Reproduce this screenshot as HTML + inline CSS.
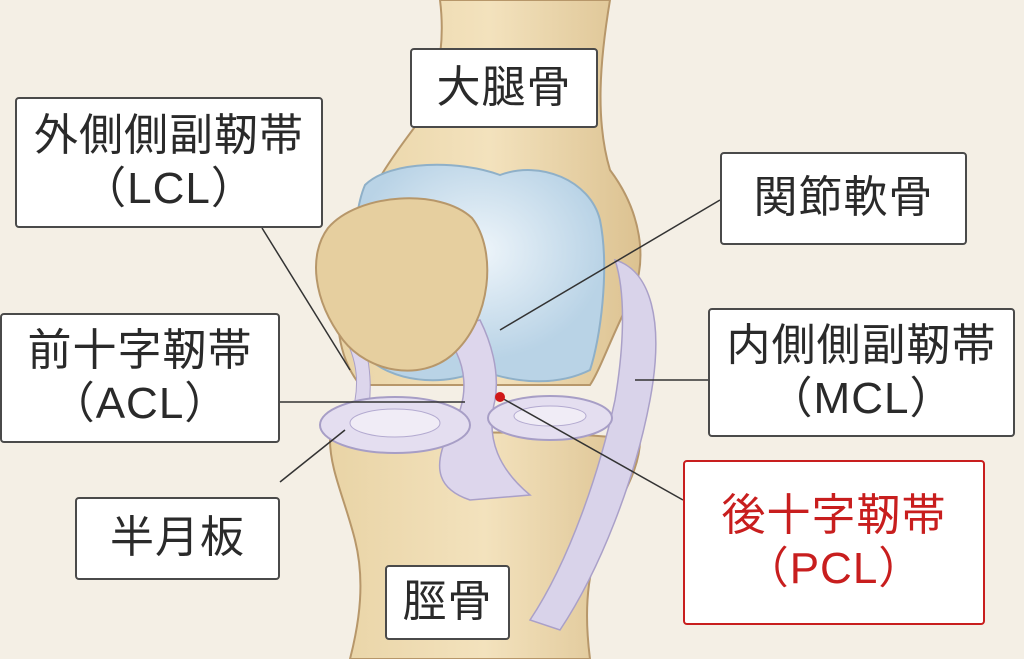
<!DOCTYPE html>
<html><head><meta charset="utf-8"><style>
body{margin:0;width:1024px;height:659px;overflow:hidden;background:#f4efe5;font-family:"Liberation Sans","Noto Sans CJK JP",sans-serif}
.b{position:absolute;background:#fff;border:2px solid #4a4a4a;border-radius:4px;box-sizing:border-box;display:flex;flex-direction:column;align-items:center;justify-content:center;font-size:44px;color:#2a2a2a;line-height:1.2;letter-spacing:1px}
</style></head><body>
<svg width="1024" height="659" style="position:absolute;left:0;top:0">
<defs>
<linearGradient id="bone" x1="0" x2="1"><stop offset="0" stop-color="#e9d4a6"/><stop offset=".5" stop-color="#f3e2bd"/><stop offset="1" stop-color="#dcc291"/></linearGradient>
<radialGradient id="cart" cx=".5" cy=".4"><stop offset="0" stop-color="#eef5fa"/><stop offset="1" stop-color="#b9d3e6"/></radialGradient>
</defs>
<path d="M440 0 L610 0 C600 60 595 120 610 170 C640 210 650 260 630 300 C610 340 600 370 590 385 L360 385 C340 360 330 320 345 260 C360 200 390 160 420 120 C440 80 445 40 440 0Z" fill="url(#bone)" stroke="#b7976a" stroke-width="2"/>
<path d="M365 185 C390 160 460 160 500 175 C540 160 590 180 600 220 C610 270 600 340 590 370 C560 385 520 385 480 370 C450 385 400 385 370 360 C350 300 350 220 365 185Z" fill="url(#cart)" stroke="#8fb0c8" stroke-width="2"/>
<path d="M330 440 C330 470 345 500 355 540 C365 580 360 620 350 659 L590 659 C585 620 585 580 600 540 C620 500 640 470 640 440 C560 430 420 430 330 440Z" fill="url(#bone)" stroke="#b7976a" stroke-width="2"/>
<path d="M615 260 C650 270 665 320 650 400 C635 480 600 570 560 630 L530 620 C570 560 600 470 615 400 C625 340 625 290 615 260Z" fill="#d9d3ea" stroke="#aaa0c8" stroke-width="1.5"/>
<path d="M440 330 C470 360 470 400 450 430 C430 470 440 490 470 500 L530 495 C500 470 485 440 495 400 C500 370 490 340 480 320Z" fill="#ddd6ec" stroke="#aaa0c8" stroke-width="1.5"/>
<path d="M340 330 C360 360 360 390 350 420 L365 425 C375 390 370 350 355 320Z" fill="#ddd6ec" stroke="#aaa0c8"/>
<ellipse cx="395" cy="425" rx="75" ry="28" fill="#e4def0" stroke="#a79ec6" stroke-width="2"/>
<ellipse cx="395" cy="423" rx="45" ry="14" fill="#f0ecf6" stroke="#b3aad0"/>
<ellipse cx="550" cy="418" rx="62" ry="22" fill="#e4def0" stroke="#a79ec6" stroke-width="2"/>
<ellipse cx="550" cy="416" rx="36" ry="10" fill="#f0ecf6" stroke="#b3aad0"/>
<path d="M328 228 C358 193 440 188 472 218 C497 250 492 320 452 355 C420 382 368 372 343 340 C313 300 308 255 328 228Z" fill="#e6cf9f" stroke="#b7976a" stroke-width="2"/>
<g stroke="#333" stroke-width="1.5">
<line x1="262" y1="228" x2="350" y2="370"/>
<line x1="720" y1="200" x2="500" y2="330"/>
<line x1="280" y1="402" x2="465" y2="402"/>
<line x1="280" y1="482" x2="345" y2="430"/>
<line x1="708" y1="380" x2="635" y2="380"/>
<line x1="500" y1="397" x2="683" y2="500"/>
</g>
<circle cx="500" cy="397" r="5" fill="#d01818"/>
</svg>
<div class="b" style="left:410px;top:48px;width:188px;height:80px">大腿骨</div>
<div class="b" style="left:15px;top:97px;width:308px;height:131px"><span>外側側副靭帯</span><span>（LCL）</span></div>
<div class="b" style="left:720px;top:152px;width:247px;height:93px">関節軟骨</div>
<div class="b" style="left:0px;top:313px;width:280px;height:130px"><span>前十字靭帯</span><span>（ACL）</span></div>
<div class="b" style="left:708px;top:308px;width:307px;height:129px"><span>内側側副靭帯</span><span>（MCL）</span></div>
<div class="b" style="left:75px;top:497px;width:205px;height:83px">半月板</div>
<div class="b" style="left:683px;top:460px;width:302px;height:165px;border-color:#c81e1e;color:#c81e1e"><span>後十字靭帯</span><span>（PCL）</span></div>
<div class="b" style="left:385px;top:565px;width:125px;height:75px">脛骨</div>
</body></html>
